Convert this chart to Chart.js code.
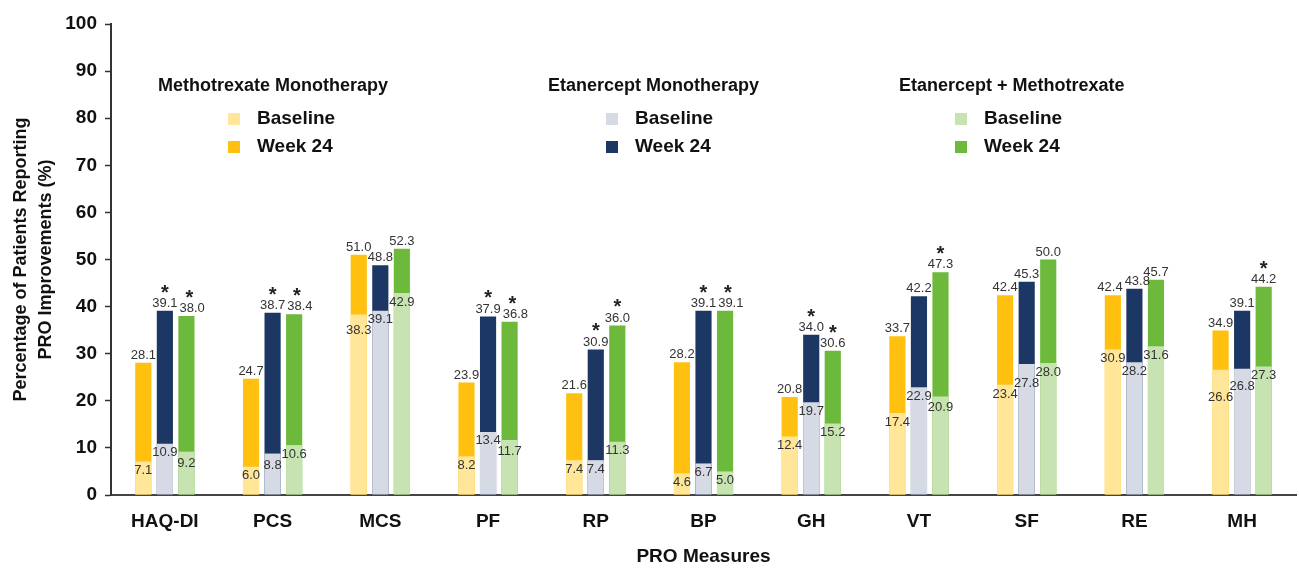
<!DOCTYPE html>
<html>
<head>
<meta charset="utf-8">
<script src="https://cdn.jsdelivr.net/npm/chart.js@4.4.0/dist/chart.umd.min.js"></script>
<style>
  html, body { margin: 0; padding: 0; background: #fff; }
  #wrap { width: 1299px; height: 569px; }
</style>
</head>
<body>
<div id="wrap"><canvas id="myChart" width="1299" height="569"></canvas></div>
<script>
const categories = ['HAQ-DI', 'PCS', 'MCS', 'PF', 'RP', 'BP', 'GH', 'VT', 'SF', 'RE', 'MH'];

const mtxBaseline = [7.1, 6.0, 38.3, 8.2, 7.4, 4.6, 12.4, 17.4, 23.4, 30.9, 26.6];
const mtxWeek24 = [28.1, 24.7, 51.0, 23.9, 21.6, 28.2, 20.8, 33.7, 42.4, 42.4, 34.9];
const etnBaseline = [10.9, 8.8, 39.1, 13.4, 7.4, 6.7, 19.7, 22.9, 27.8, 28.2, 26.8];
const etnWeek24 = [39.1, 38.7, 48.8, 37.9, 30.9, 39.1, 34.0, 42.2, 45.3, 43.8, 39.1];
const comboBaseline = [9.2, 10.6, 42.9, 11.7, 11.3, 5.0, 15.2, 20.9, 28.0, 31.6, 27.3];
const comboWeek24 = [38.0, 38.4, 52.3, 36.8, 36.0, 39.1, 30.6, 47.3, 50.0, 45.7, 44.2];

// significance markers (*) over the week 24 bars
const mtxSig = [false, false, false, false, false, false, false, false, false, false, false];
const etnSig = [true, true, false, true, true, true, true, false, false, false, false];
const comboSig = [true, true, false, true, true, true, true, true, false, false, true];

const groupTitles = ['Methotrexate Monotherapy', 'Etanercept Monotherapy', 'Etanercept + Methotrexate'];

const FONT = "'Liberation Sans', Arial, Helvetica, sans-serif";
const colors = {
  mtxBase: '#FFE699', mtxWeek: '#FFC00F',
  etnBase: '#D5DAE4', etnWeek: '#1D3764',
  comboBase: '#C6E3B1', comboWeek: '#6CB93C'
};

// value labels: week 24 above the bar, baseline just inside the top of the
// baseline segment; neighbours that would collide get nudged apart
const barLabels = {
  id: 'barLabels',
  afterDatasetsDraw(chart) {
    const ctx = chart.ctx;
    const sets = chart.data.datasets;
    const baseIdx = [0, 1, 2];
    const weekIdx = [3, 4, 5];
    ctx.save();
    ctx.font = '13px ' + FONT;
    ctx.textAlign = 'center';

    categories.forEach((c, j) => {
      // baseline labels
      const b = baseIdx.map(i => {
        const bar = chart.getDatasetMeta(i).data[j];
        const txt = sets[i].data[j].toFixed(1);
        return { txt, x: bar.x, y: bar.y + 9, w: ctx.measureText(txt).width };
      });
      const hitX = (p, q) => Math.abs(p.x - q.x) < (p.w + q.w) / 2 + 1;
      // etanercept vs combo: push the lower one further down
      if (hitX(b[1], b[2]) && Math.abs(b[1].y - b[2].y) < 11) {
        if (b[1].y >= b[2].y) b[1].y = b[2].y + 11; else b[2].y = b[1].y + 11;
      }
      // methotrexate goes under etanercept when they clash
      if (hitX(b[0], b[1]) && Math.abs(b[0].y - b[1].y) < 11) {
        b[0].y = b[1].y + 11;
      }
      ctx.fillStyle = '#333';
      ctx.textBaseline = 'middle';
      b.forEach(p => ctx.fillText(p.txt, p.x, p.y));

      // week 24 labels
      const w = weekIdx.map(i => {
        const bar = chart.getDatasetMeta(i).data[j];
        const txt = sets[i].data[j].toFixed(1);
        return { txt, x: bar.x, bx: bar.x, y: bar.y, w: ctx.measureText(txt).width, sig: sets[i].sig[j] };
      });
      for (let k = 0; k < 2; k++) {
        const p = w[k], q = w[k + 1];
        const need = (p.w + q.w) / 2 + 2;
        const gap = q.x - p.x;
        if (Math.abs(p.y - q.y) < 8.5 && gap < need) {
          const d = need - gap;
          if (k === 0) { p.x -= d / 2; q.x += d / 2; } else { q.x += d; }
        }
      }
      w.forEach(p => {
        ctx.fillStyle = '#333';
        ctx.font = '13px ' + FONT;
        ctx.textBaseline = 'bottom';
        ctx.fillText(p.txt, p.x, p.y - 1);
        if (p.sig) {
          ctx.fillStyle = '#222';
          ctx.font = 'bold 20px ' + FONT;
          ctx.textBaseline = 'alphabetic';
          ctx.fillText('*', (p.x + p.bx) / 2, p.y - 12);
        }
      });
      ctx.font = '13px ' + FONT;
    });
    ctx.restore();
  }
};

const groupLegend = {
  id: 'groupLegend',
  afterDraw(chart) {
    const ctx = chart.ctx;
    const spots = [
      { tx: 158, sx: 228, base: colors.mtxBase, week: colors.mtxWeek },
      { tx: 548, sx: 606, base: colors.etnBase, week: colors.etnWeek },
      { tx: 899, sx: 955, base: colors.comboBase, week: colors.comboWeek }
    ];
    ctx.save();
    spots.forEach((s, i) => {
      ctx.fillStyle = '#111';
      ctx.font = 'bold 18px ' + FONT;
      ctx.textAlign = 'left';
      ctx.textBaseline = 'middle';
      ctx.fillText(groupTitles[i], s.tx, 86);
      ctx.fillStyle = s.base;
      ctx.fillRect(s.sx, 113, 12, 12);
      ctx.fillStyle = s.week;
      ctx.fillRect(s.sx, 141, 12, 12);
      ctx.fillStyle = '#111';
      ctx.font = 'bold 19px ' + FONT;
      ctx.fillText('Baseline', s.sx + 29, 119);
      ctx.fillText('Week 24', s.sx + 29, 147);
    });
    ctx.restore();
  }
};

const barOpts = { categoryPercentage: 0.6, barPercentage: 0.75, borderWidth: 0 };

new Chart(document.getElementById('myChart').getContext('2d'), {
  type: 'bar',
  data: {
    labels: categories,
    datasets: [
      // baseline first so it is painted over the week 24 bar of the same slot
      { ...barOpts, kind: 'base', stack: 'mtx', data: mtxBaseline, backgroundColor: colors.mtxBase },
      { ...barOpts, kind: 'base', stack: 'etn', data: etnBaseline, backgroundColor: colors.etnBase },
      { ...barOpts, kind: 'base', stack: 'combo', data: comboBaseline, backgroundColor: colors.comboBase },
      { ...barOpts, kind: 'week', stack: 'mtx', data: mtxWeek24, sig: mtxSig, backgroundColor: colors.mtxWeek },
      { ...barOpts, kind: 'week', stack: 'etn', data: etnWeek24, sig: etnSig, backgroundColor: colors.etnWeek },
      { ...barOpts, kind: 'week', stack: 'combo', data: comboWeek24, sig: comboSig, backgroundColor: colors.comboWeek }
    ]
  },
  options: {
    responsive: false,
    animation: false,
    layout: { padding: { left: 0, right: 3, top: 24, bottom: 0 } },
    plugins: { legend: { display: false }, tooltip: { enabled: false } },
    scales: {
      x: {
        grid: { display: false, drawTicks: false },
        border: { display: true, color: '#444', width: 2 },
        ticks: { color: '#111', font: { family: FONT, size: 19, weight: 'bold' }, padding: 15, maxRotation: 0 },
        title: { display: true, text: 'PRO Measures', color: '#111', font: { family: FONT, size: 19, weight: 'bold' }, padding: { top: 0, bottom: 1 } },
        afterFit(scale) { scale.height = 74; }
      },
      y: {
        stacked: false,
        min: 0,
        max: 100,
        ticks: { stepSize: 10, color: '#111', font: { family: FONT, size: 19, weight: 'bold' }, padding: 8 },
        grid: { drawOnChartArea: false, drawTicks: true, tickLength: 6, color: '#333', tickWidth: 1.5 },
        border: { display: true, color: '#333', width: 2 },
        title: { display: true, text: ['Percentage of Patients Reporting', 'PRO Improvements (%)'], color: '#111', font: { family: FONT, size: 18, weight: 'bold', lineHeight: 1.38 }, padding: { top: 9, bottom: 0 } },
        afterFit(scale) { scale.width = 111; }
      }
    }
  },
  plugins: [barLabels, groupLegend]
});
</script>
</body>
</html>
